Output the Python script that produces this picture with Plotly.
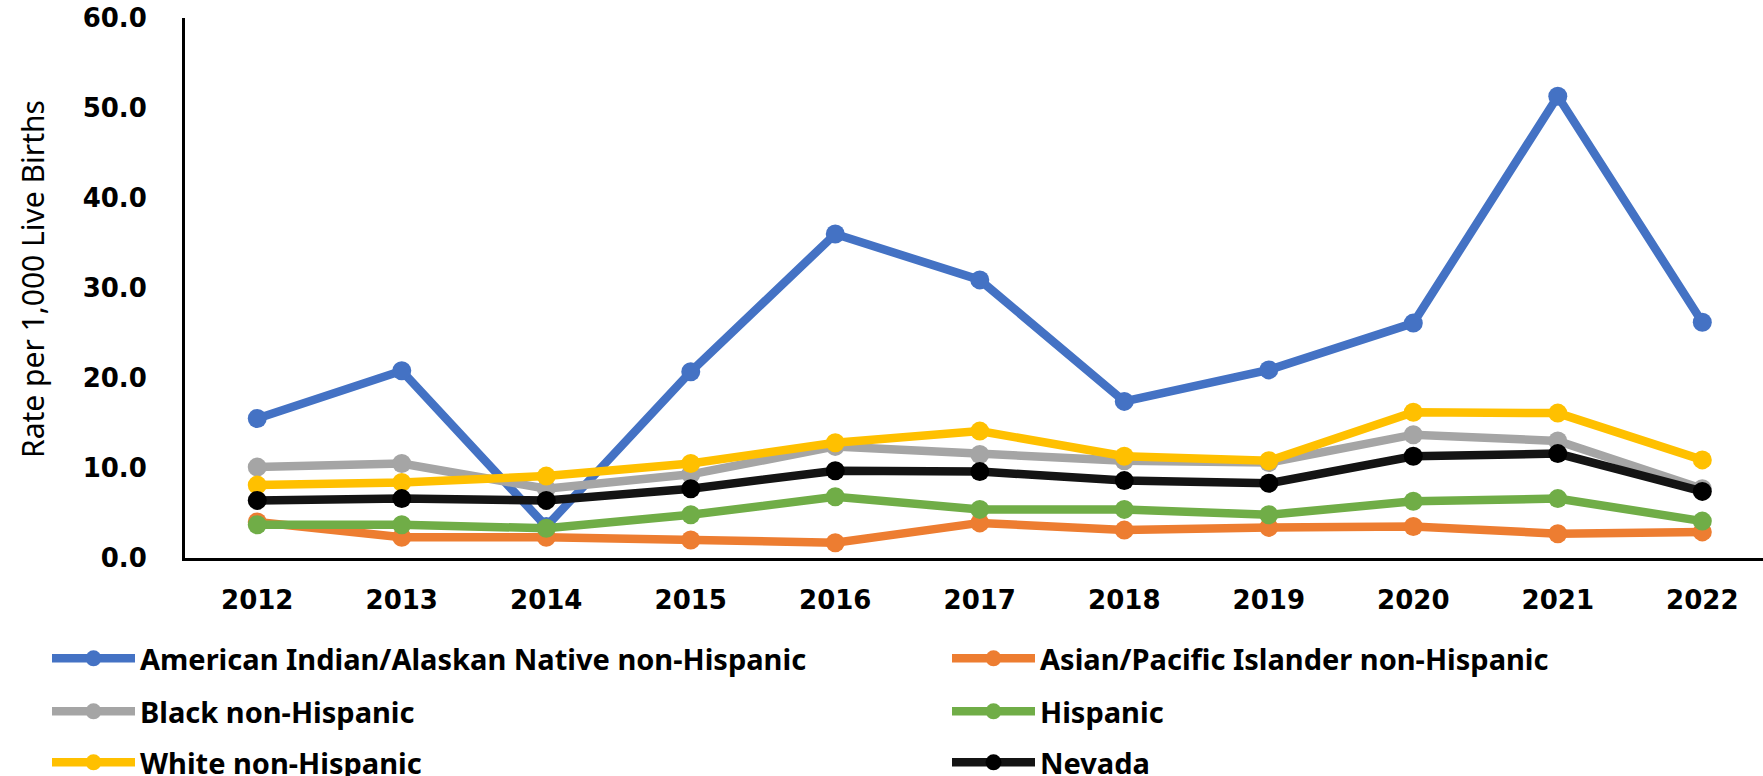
import plotly.graph_objects as go

# Rates per 1,000 live births, Nevada, by race/ethnicity
years = ["2012", "2013", "2014", "2015", "2016", "2017", "2018", "2019", "2020", "2021", "2022"]

aian = [15.5, 20.8, 3.5, 20.7, 36.0, 30.9, 17.4, 20.9, 26.1, 51.3, 26.2]
api = [4.0, 2.3, 2.3, 2.0, 1.7, 3.9, 3.1, 3.4, 3.5, 2.7, 2.9]
black = [10.1, 10.5, 7.7, 9.3, 12.4, 11.5, 10.8, 10.6, 13.7, 13.0, 7.7]
hispanic = [3.7, 3.7, 3.3, 4.8, 6.8, 5.4, 5.4, 4.8, 6.3, 6.6, 4.1]
white = [8.1, 8.4, 9.1, 10.5, 12.8, 14.1, 11.3, 10.8, 16.2, 16.1, 10.9]
nevada = [6.4, 6.6, 6.4, 7.7, 9.7, 9.6, 8.6, 8.3, 11.3, 11.6, 7.4]

series_names = [
    "American Indian/Alaskan Native non-Hispanic",
    "Asian/Pacific Islander non-Hispanic",
    "Black non-Hispanic",
    "Hispanic",
    "White non-Hispanic",
    "Nevada",
]
series_values = [aian, api, black, hispanic, white, nevada]
series_colors = ["#4472C4", "#ED7D31", "#A5A5A5", "#70AD47", "#FFC000", "#141414"]
marker_colors = ["#4472C4", "#ED7D31", "#A5A5A5", "#70AD47", "#FFC000", "#000000"]

y_ticks = [0, 10, 20, 30, 40, 50, 60]
y_tick_text = ["0.0", "10.0", "20.0", "30.0", "40.0", "50.0", "60.0"]

tick_font = dict(family="DejaVu Sans", size=26, color="#000000", weight="bold")
legend_font = dict(family="Noto Sans", size=29, color="#000000", weight="bold")
title_font = dict(family="Noto Sans", size=30, color="#000000")

W, H = 1763, 776
# legend grid: two columns, three rows (left edge x in px, top edge y in px)
legend_cols = [47, 947]
legend_rows = [633, 686, 737]

fig = go.Figure()
legend_layout = {}
for i, (name, vals, col, mcol) in enumerate(
        zip(series_names, series_values, series_colors, marker_colors)):
    key = "legend" if i == 0 else f"legend{i + 1}"
    fig.add_trace(go.Scatter(
        x=years, y=vals, name=name, mode="lines+markers",
        line=dict(color=col, width=8.5),
        marker=dict(color=mcol, size=19),
        legend=key,
    ))
    legend_layout[key] = dict(
        orientation="h",
        xref="container", yref="container",
        xanchor="left", yanchor="top",
        x=legend_cols[i % 2] / W, y=1 - legend_rows[i // 2] / H,
        itemwidth=83,
        font=legend_font, bgcolor="rgba(0,0,0,0)",
    )

fig.update_layout(
    width=W, height=H,
    margin=dict(l=185, r=0, t=18, b=218),
    paper_bgcolor="#ffffff", plot_bgcolor="#ffffff",
    showlegend=True,
    **legend_layout,
    xaxis=dict(
        type="category", range=[-0.5, 10.42],
        showline=True, linecolor="#000000", linewidth=3,
        showgrid=False, zeroline=False, ticks="",
        tickfont=tick_font, ticklabelstandoff=17,
    ),
    yaxis=dict(
        range=[0, 60], tickvals=y_ticks, ticktext=y_tick_text,
        showline=True, linecolor="#000000", linewidth=3,
        showgrid=False, zeroline=False, ticks="",
        tickfont=tick_font, ticklabelstandoff=30,
    ),
    annotations=[dict(
        text="Rate per 1,000 Live Births", textangle=-90,
        xref="paper", yref="paper",
        x=(32 - 185) / (W - 185), y=(558 - 279) / (558 - 18),
        xanchor="center", yanchor="middle", showarrow=False,
        font=title_font,
    )],
)

fig.write_html("out.html")
